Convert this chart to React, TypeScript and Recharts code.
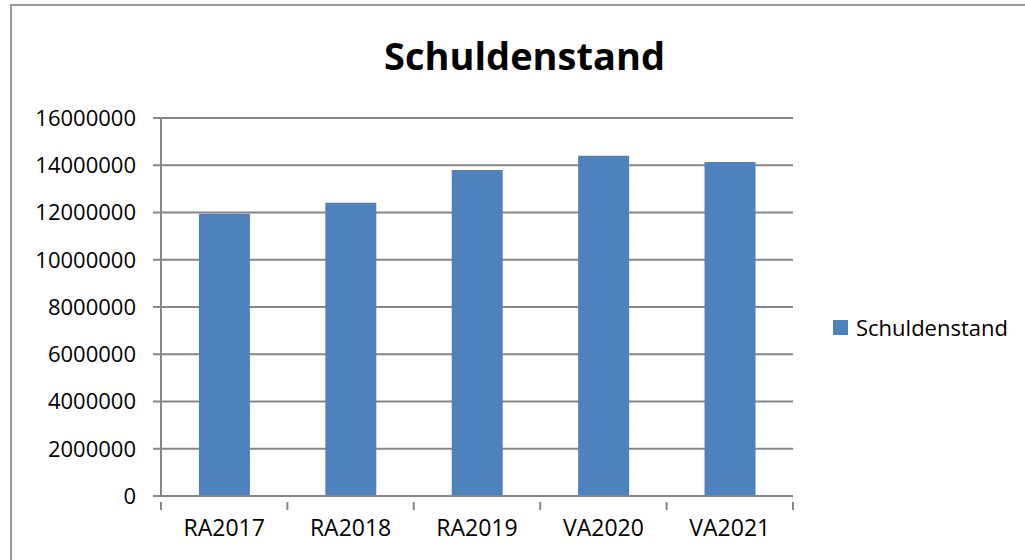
import React from 'react';
import { BarChart, Bar, XAxis, YAxis, CartesianGrid } from 'recharts';

const categories = ['RA2017', 'RA2018', 'RA2019', 'VA2020', 'VA2021'];
const schuldenstand = [11950000, 12410000, 13800000, 14400000, 14140000];
const yTicks = [0, 2000000, 4000000, 6000000, 8000000, 10000000, 12000000, 14000000, 16000000];
const seriesName = 'Schuldenstand';

const data = categories.map((name, i) => ({ name, [seriesName]: schuldenstand[i] }));

const FONT = '"Open Sans", "Noto Sans", sans-serif';
const AXIS_GRAY = '#868686';
const BAR_BLUE = '#4F81BD';

const PLOT_LEFT = 161;
const PLOT_RIGHT = 793;
const BAND = (PLOT_RIGHT - PLOT_LEFT) / categories.length;

// Excel-style: tick marks sit between categories, not under them
const CategoryTick = (props: any) => {
  const { x, y, payload, index } = props;
  const left = x - BAND / 2;
  return (
    <g>
      <line x1={left} y1={y - 2} x2={left} y2={y + 6} stroke={AXIS_GRAY} strokeWidth={2} />
      {index === categories.length - 1 && (
        <line x1={left + BAND} y1={y - 2} x2={left + BAND} y2={y + 6} stroke={AXIS_GRAY} strokeWidth={2} />
      )}
      <text x={x} y={y + 32} textAnchor="middle" fill="#000" fontSize={23} fontFamily={FONT}>
        {payload.value}
      </text>
    </g>
  );
};

export default function App() {
  return (
    <div style={{ position: 'absolute', left: 0, top: 0, width: 1025, height: 560, overflow: 'hidden', background: '#fff' }}>
      <div
        style={{
          position: 'absolute',
          left: 10,
          top: 4,
          width: 1100,
          height: 600,
          borderLeft: '2px solid #9a9a9a',
          borderTop: '2px solid #9a9a9a',
        }}
      />
      <div
        style={{
          position: 'absolute',
          left: 0,
          top: 32,
          width: 1049,
          textAlign: 'center',
          fontFamily: FONT,
          fontWeight: 700,
          fontSize: 38,
          lineHeight: '46px',
          color: '#000',
        }}
      >
        Schuldenstand
      </div>
      <div style={{ position: 'absolute', left: 0, top: 0 }}>
        <BarChart
          width={1025}
          height={560}
          data={data}
          margin={{ top: 118, right: 1025 - PLOT_RIGHT, bottom: 34, left: 11 }}
          barCategoryGap="30%"
        >
          <CartesianGrid vertical={false} stroke={AXIS_GRAY} strokeWidth={2} />
          <XAxis
            dataKey="name"
            height={30}
            axisLine={{ stroke: AXIS_GRAY, strokeWidth: 2 }}
            tickLine={false}
            tick={<CategoryTick />}
            interval={0}
          />
          <YAxis
            width={150}
            domain={[0, 16000000]}
            ticks={yTicks}
            interval={0}
            axisLine={{ stroke: AXIS_GRAY, strokeWidth: 2 }}
            tickLine={{ stroke: AXIS_GRAY, strokeWidth: 2 }}
            tickSize={8}
            tickMargin={17}
            tick={{ fill: '#000', fontSize: 22, fontFamily: FONT }}
          />
          <Bar dataKey={seriesName} fill={BAR_BLUE} isAnimationActive={false} />
        </BarChart>
      </div>
      <div
        style={{
          position: 'absolute',
          left: 833,
          top: 312,
          display: 'flex',
          alignItems: 'center',
          fontFamily: FONT,
          fontSize: 22,
          color: '#000',
        }}
      >
        <span style={{ display: 'inline-block', width: 15, height: 15, background: BAR_BLUE, marginRight: 8 }} />
        {seriesName}
      </div>
    </div>
  );
}
